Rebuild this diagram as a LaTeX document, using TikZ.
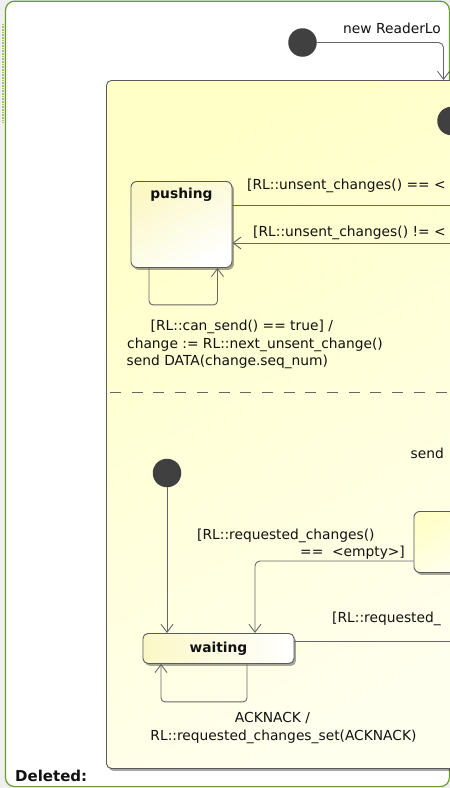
\documentclass[tikz,border=0pt]{standalone}
\usepackage{fontspec}
\setmainfont{DejaVu Sans}
\usetikzlibrary{arrows.meta,shadows}
\definecolor{lineC}{HTML}{666666}
\definecolor{boxC}{HTML}{5A5A5A}
\definecolor{dotC}{HTML}{404040}
\definecolor{txtC}{HTML}{111111}
\definecolor{frameC}{HTML}{6A9E2A}
\definecolor{bgC}{HTML}{EFEFEF}
\definecolor{yA}{HTML}{FFFFC8}
\definecolor{yB}{HTML}{FFFFEE}
\definecolor{yC}{HTML}{FBF8C6}
\newcommand{\lblf}{\fontsize{13.8}{16}\selectfont}
\tikzset{
  conn/.style={draw=lineC, line width=0.9pt},
  arr/.style={conn, -{Straight Barb[length=8pt,width=12pt]}},
  initdot/.style={circle, fill=dotC, minimum size=28.5pt, inner sep=0pt},
  shad/.style={drop shadow={shadow xshift=2pt, shadow yshift=-2.5pt, opacity=0.35, fill=black}},
  statebox/.style={draw=boxC, line width=0.9pt, rounded corners=6pt, shad, inner sep=0pt},
  lbl/.style={font=\lblf, text=txtC, inner sep=0pt}
}
\begin{document}
\begin{tikzpicture}[x=1pt,y=-1pt]
\useasboundingbox (0,0) rectangle (450,788);
\fill[bgC] (0,0) rectangle (450,788);
\clip (0,0) rectangle (450,788);
% outer frame
\draw[frameC, line width=1.2pt, fill=white, rounded corners=9pt] (5.5,1.2) rectangle (449.4,786.6);
\draw[frameC!60!white, line width=1.6pt, dash pattern=on 0.8pt off 0.8pt] (3.2,24) -- (3.2,122);
% composite state
\node[statebox, rounded corners=5pt, anchor=north west, minimum width=380pt, minimum height=688pt,
      top color=yA, bottom color=yB, shading angle=30] (comp) at (106,80) {};
% top initial
\node[initdot] (i0) at (302.5,42.5) {};
\coordinate (c1) at (443.5,80);
\draw[arr, rounded corners=5pt] (i0) -| (c1);
\node[lbl, anchor=west] (t0) at (343,28) {new ReaderLo};
% region 1 initial (clipped)
\node[initdot] (i1) at (451.5,121) {};
% pushing
\node[statebox, anchor=north west, minimum width=101pt, minimum height=86pt,
      top color=yC, bottom color=white, shading angle=30,
      label={[lbl, font=\lblf\bfseries, anchor=north, yshift=-7pt]north:pushing}] (push) at (130.5,181) {};
\coordinate (e1) at (470,205);
\coordinate (e2) at (470,243);
\draw[conn] (push.east |- e1) -- (e1);
\draw[arr] (e2) -- (push.east |- e2);
\node[lbl, anchor=west] (t1) at (247,186) {[RL::unsent\_changes() == <};
\node[lbl, anchor=west] (t2) at (253,233) {[RL::unsent\_changes() != <};
\draw[arr, rounded corners=4pt] ([xshift=18.5pt]push.south west) -- ++(0,37) -| ([xshift=87pt]push.south west);
\node[lbl, anchor=west] (t3) at (150.5,327) {[RL::can\_send() == true] /};
\node[lbl, anchor=west] (t4) at (127,344.5) {change := RL::next\_unsent\_change()};
\node[lbl, anchor=west] (t5) at (126.5,362) {send DATA(change.seq\_num)};
% separator
\draw[lineC, line width=0.9pt, dash pattern=on 11pt off 10.7pt] (110,392) -- (450,392);
% region 2
\node[lbl, anchor=west] (t6) at (410.5,453) {send};
\node[initdot] (i2) at (167,473) {};
\node[statebox, anchor=north west, minimum width=60pt, minimum height=61pt,
      top color=yA, bottom color=yB, shading angle=30] (rb) at (413.5,511) {};
\node[statebox, rounded corners=5pt, anchor=north west, minimum width=151pt, minimum height=30pt,
      left color=yC, right color=white, font=\lblf\bfseries, text=txtC] (wait) at (142.5,633) {waiting};
\draw[arr] (i2) -- (wait.north -| i2);
\draw[arr, rounded corners=5pt] ([yshift=-19pt]rb.west) -| ([xshift=36.5pt]wait.north);
\node[lbl, anchor=west] (t7) at (197,535.5) {[RL::requested\_changes()};
\node[lbl, anchor=west] (t8) at (300,553) {==\ \ <empty>]};
\coordinate (e3) at (470,641);
\draw[conn] (wait.east |- e3) -- (e3);
\node[lbl, anchor=west] (t9) at (332,619) {[RL::requested\_};
\draw[arr, rounded corners=4pt] ([xshift=104.5pt]wait.south west) -- ++(0,38) -| ([xshift=18.5pt]wait.south west);
\node[lbl] (t10) at (272.5,718.5) {ACKNACK /};
\node[lbl] (t11) at (283.5,737) {RL::requested\_changes\_set(ACKNACK)};
% deleted
\node[lbl, anchor=west, font=\fontsize{15}{17}\selectfont\bfseries] (t12) at (15,775.5) {Deleted:};
\end{tikzpicture}
\end{document}
